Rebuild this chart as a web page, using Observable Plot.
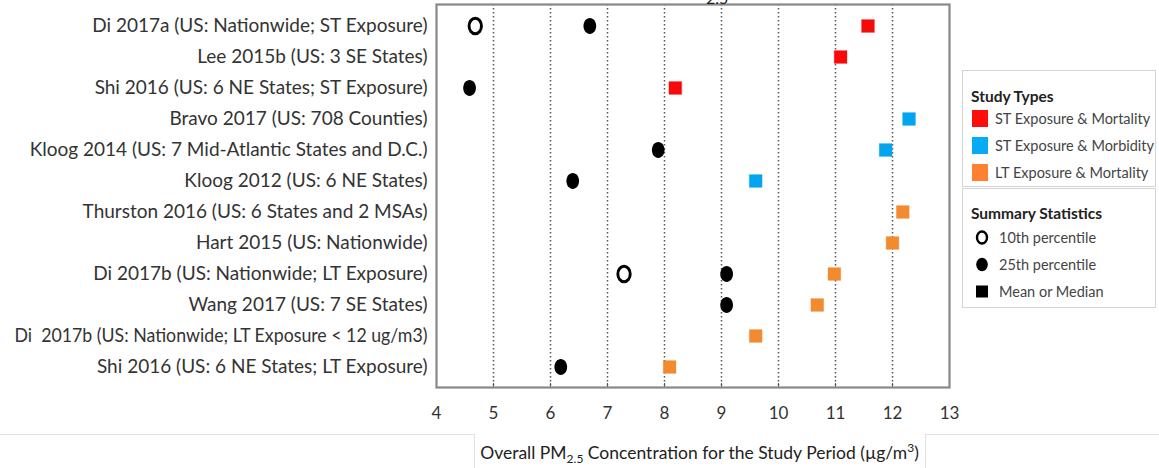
<!DOCTYPE html>
<html>
<head>
<meta charset="utf-8">
<script src="https://cdn.jsdelivr.net/npm/d3@7"></script>
<script src="https://cdn.jsdelivr.net/npm/@observablehq/plot@0.6"></script>
<style>
  html, body { margin: 0; padding: 0; background: #fff; overflow: hidden; }
  #wrap { position: relative; width: 1159px; height: 468px; font-family: Lato, "Liberation Sans", sans-serif; color: #333; }
  #chart { position: absolute; left: 0; top: 0; }
  .legbox { position: absolute; left: 962px; width: 194px; border: 1px solid #d4d4d4; box-sizing: border-box; background: #fff; }
  .legtitle { font-weight: bold; font-size: 15.5px; color: #222; margin: 0 0 -2px 8px; height: 22px; line-height: 22px; }
  .legrow { display: flex; align-items: center; height: 27px; font-size: 14.5px; color: #444; margin-left: 9px; white-space: nowrap; }
  .sw { width: 16px; height: 17px; margin-right: 7px; flex: none; }
  .sym { width: 14px; height: 15px; margin-right: 10px; margin-left: 3px; flex: none; }
  .hline { position: absolute; height: 1px; background: #e2e2e2; top: 434px; }
  .vline { position: absolute; width: 1px; background: #e2e2e2; top: 434px; height: 34px; }
  #xtitle { position: absolute; left: 474px; width: 451px; top: 440px; text-align: center; font-size: 17.5px; color: #222; }
  #toptitle { position: absolute; left: 706px; top: -12px; font-size: 16px; color: #222; }
</style>
</head>
<body>
<div id="wrap">
  <div id="chart"></div>
  <div id="toptitle">2.5</div>
  <div class="legbox" id="leg1" style="top:70px;height:117px;padding-top:14px;"></div>
  <div class="legbox" id="leg2" style="top:188px;height:120px;padding-top:13px;"></div>
  <div class="hline" style="left:0;width:474px;"></div>
  <div class="hline" style="left:925px;width:234px;"></div>
  <div class="vline" style="left:474px;"></div>
  <div class="vline" style="left:925px;"></div>
  <div id="xtitle">Overall PM<sub style="font-size:12px">2.5</sub> Concentration for the Study Period (µg/m<sup style="font-size:12px">3</sup>)</div>
</div>
<script>
// ---- Data ----
const studies = [
  "Di 2017a (US: Nationwide; ST Exposure)",
  "Lee 2015b (US: 3 SE States)",
  "Shi 2016 (US: 6 NE States; ST Exposure)",
  "Bravo 2017 (US: 708 Counties)",
  "Kloog 2014 (US: 7 Mid-Atlantic States and D.C.)",
  "Kloog 2012 (US: 6 NE States)",
  "Thurston 2016 (US: 6 States and 2 MSAs)",
  "Hart 2015 (US: Nationwide)",
  "Di 2017b (US: Nationwide; LT Exposure)",
  "Wang 2017 (US: 7 SE States)",
  "Di  2017b (US: Nationwide; LT Exposure < 12 ug/m3)",
  "Shi 2016 (US: 6 NE States; LT Exposure)"
];
const studyTypes = ["ST Exposure & Mortality", "ST Exposure & Morbidity", "LT Exposure & Mortality"];
const studyTypeOf = [0, 0, 0, 1, 1, 1, 2, 2, 2, 2, 2, 2];
const p10 = [4.68, null, null, null, null, null, null, null, 7.29, null, null, null];
const p25 = [6.69, null, 4.58, null, 7.89, 6.39, null, null, 9.09, 9.09, null, 6.18];
const meanMedian = [11.57, 11.09, 8.19, 12.29, 11.88, 9.60, 12.18, 12.00, 10.98, 10.68, 9.60, 8.09];
const xTicks = [4, 5, 6, 7, 8, 9, 10, 11, 12, 13];
const gridValues = [5, 6, 7, 8, 9, 10, 11, 12];
const typeColors = ["#F80A0A", "#03A6EE", "#F28B30"];
const legendColors = ["#FF0D0D", "#06AAF5", "#FF8033"];
const statLabels = ["10th percentile", "25th percentile", "Mean or Median"];

// ---- Build tables ----
const meanData = studies.map((s, i) => ({study: s, value: meanMedian[i], type: studyTypes[studyTypeOf[i]]}));
const p25Data = studies.map((s, i) => ({study: s, value: p25[i]})).filter(d => d.value != null);
const p10Data = studies.map((s, i) => ({study: s, value: p10[i]})).filter(d => d.value != null);

const ellipse = {
  draw(ctx, size) {
    const r = Math.sqrt(size / Math.PI);
    const rx = r * 0.86, ry = r * 1.08, k = 0.5523;
    ctx.moveTo(rx, 0);
    ctx.bezierCurveTo(rx, k * ry, k * rx, ry, 0, ry);
    ctx.bezierCurveTo(-k * rx, ry, -rx, k * ry, -rx, 0);
    ctx.bezierCurveTo(-rx, -k * ry, -k * rx, -ry, 0, -ry);
    ctx.bezierCurveTo(k * rx, -ry, rx, -k * ry, rx, 0);
    ctx.closePath();
  }
};

const chart = Plot.plot({
  width: 1159,
  height: 432,
  marginLeft: 436,
  marginRight: 210,
  marginTop: 4,
  marginBottom: 45,
  style: {fontFamily: 'Lato, "Liberation Sans", sans-serif', color: "#333", background: "transparent"},
  x: {domain: [4, 13]},
  y: {domain: studies, type: "band", padding: 0},
  color: {domain: studyTypes, range: typeColors},
  marks: [
    Plot.gridX(gridValues, {stroke: "#555", strokeOpacity: 1, strokeWidth: 1.5, strokeDasharray: "1.5,2.5"}),
    Plot.axisX(gridValues, {tickSize: -4, text: null, stroke: "#555", label: null}),
    Plot.axisX(xTicks, {tickSize: 0, tickPadding: 19, fontSize: 17, label: null, fill: "#333"}),
    Plot.axisY({tickSize: 0, tickPadding: 9, fontSize: 19, label: null, fill: "#333"}),
    Plot.frame({stroke: "#888", strokeWidth: 2.2}),
    Plot.dot(p10Data, {x: "value", y: "study", symbol: ellipse, r: 7.2, fill: "#fff", stroke: "#000", strokeWidth: 2.9}),
    Plot.dot(p25Data, {x: "value", y: "study", symbol: ellipse, r: 7.4, fill: "#000"}),
    Plot.dot(meanData, {x: "value", y: "study", symbol: "square", r: 7.2, fill: "type", stroke: "type", strokeOpacity: 0.35, strokeWidth: 1})
  ]
});
document.getElementById("chart").appendChild(chart);

// keep the double space and fit over-long labels inside the page
chart.querySelectorAll('g[aria-label="y-axis tick label"] text').forEach(t => {
  t.style.whiteSpace = "pre";
  const w = t.getComputedTextLength();
  if (w > 413) {
    t.setAttribute("textLength", 413);
    t.setAttribute("lengthAdjust", "spacingAndGlyphs");
  }
});

// ---- Legends ----
const leg1 = document.getElementById("leg1");
leg1.innerHTML = '<div class="legtitle">Study Types</div>' +
  studyTypes.map((t, i) => `<div class="legrow"><span class="sw" style="background:${legendColors[i]}"></span>${t}</div>`).join("");
const leg2 = document.getElementById("leg2");
const symSvg = [
  '<svg class="sym" viewBox="0 0 14 15"><ellipse cx="7" cy="7.5" rx="5" ry="6" fill="#fff" stroke="#000" stroke-width="2.4"/></svg>',
  '<svg class="sym" viewBox="0 0 14 15"><ellipse cx="7" cy="7.5" rx="5.8" ry="6.8" fill="#000"/></svg>',
  '<svg class="sym" viewBox="0 0 14 15"><rect x="1" y="1.5" width="12" height="12" fill="#000"/></svg>'
];
leg2.innerHTML = '<div class="legtitle" style="margin-bottom:0">Summary Statistics</div>' +
  statLabels.map((t, i) => `<div class="legrow">${symSvg[i]}${t}</div>`).join("");
</script>
</body>
</html>
